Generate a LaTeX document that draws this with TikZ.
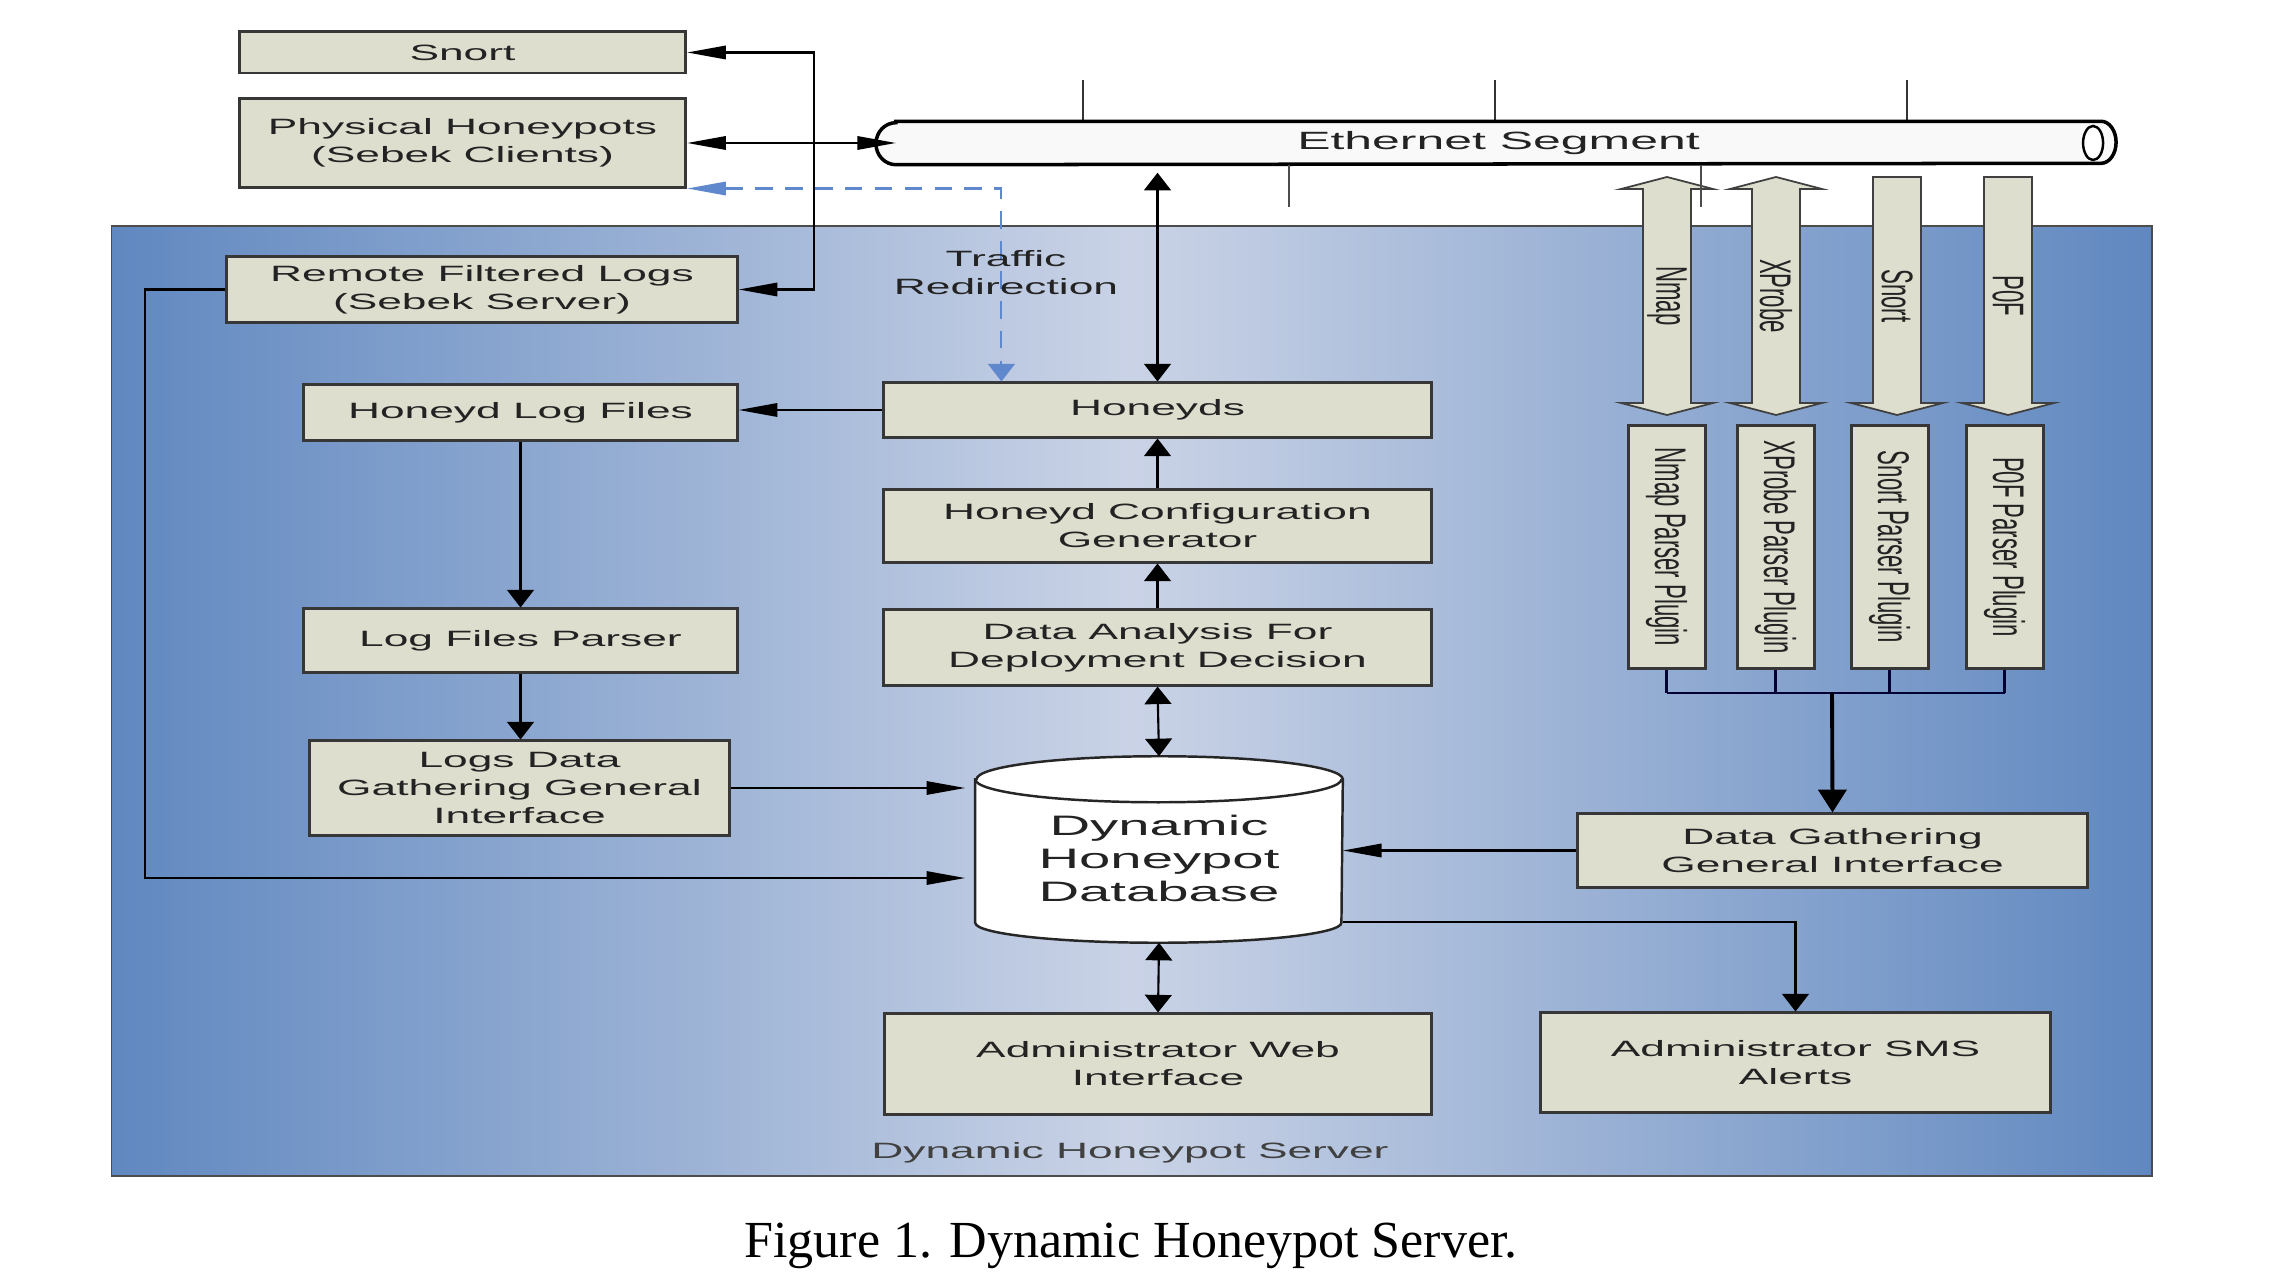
\documentclass[tikz,border=0pt]{standalone}
\usepackage{fontspec}
\setmainfont{Liberation Serif}
\newfontfamily\widesans[FakeStretch=2]{Liberation Sans}
\newfontfamily\plainsans{Liberation Sans}
\usetikzlibrary{shapes,arrows.meta,positioning,calc}

\definecolor{boxfill}{RGB}{221,222,205}
\definecolor{boxline}{RGB}{55,55,55}
\definecolor{srvedge}{RGB}{96,136,192}
\definecolor{srvmid}{RGB}{202,211,230}
\definecolor{redir}{RGB}{96,136,204}
\definecolor{ink}{RGB}{35,35,35}

\newcommand{\sidetext}[1]{\rotatebox{-90}{\scalebox{1}[2]{#1}}}

\tikzset{
  htip/.tip={Triangle[length=11pt,width=3.8pt]},
  vtip/.tip={Triangle[length=5pt,width=7.6pt]},
  bigtip/.tip={Triangle[length=6.5pt,width=8pt]},
  box/.style={draw=boxline, line width=0.85pt, fill=boxfill, inner sep=0pt,
    align=center, text=ink, font=\widesans\fontsize{6.3}{8}\selectfont},
  plugin/.style={box, minimum width=0.77cm, minimum height=2.42cm,
    font=\plainsans\fontsize{6.3}{8}\selectfont},
  server/.style={draw=black!70, line width=0.5pt, inner sep=0pt,
    left color=srvedge, right color=srvedge, middle color=srvmid},
  link/.style={draw=black, line width=0.6pt},
  buslink/.style={draw=black!80!blue, line width=0.6pt},
  redirline/.style={draw=redir, line width=0.6pt, dash pattern=on 5pt off 3.5pt},
  blockarrow/.style={draw=black!75, line width=0.5pt, fill=boxfill},
  plain/.style={inner sep=0pt, align=center, text=ink, font=\widesans\fontsize{6.3}{8}\selectfont}
}

\begin{document}
\begin{tikzpicture}[x=0.01cm, y=-0.01cm]
  \useasboundingbox (0,0) rectangle (2286,1286);

  % Server background
  \node[server, minimum width=20.39cm, minimum height=9.5cm] (server) at (1131.5,701) {};
  \node[plain, text=black!75] (srvname) at (1130,1153) {Dynamic Honeypot Server};

  % Ethernet segment
  \node[minimum width=12.03cm, minimum height=0.42cm, inner sep=0pt] (tube) at (1498.5,143) {};
  \foreach \x in {1083,1495,1907}
    \draw[black!80, line width=0.5pt] (\x,80) -- (tube.north -| \x,0);
  \draw[line width=1pt, fill=gray!5] (tube.north west) -- (tube.north east)
    arc[start angle=90, end angle=-90, x radius=0.15cm, y radius=0.21cm]
    -- (tube.south west)
    arc[start angle=270, end angle=90, x radius=0.2cm, y radius=0.21cm] -- cycle;
  \draw[line width=0.7pt, fill=white] (tube.east) ++(-8,0) ellipse[x radius=0.1cm, y radius=0.17cm];
  \node[plain, font=\widesans\fontsize{7.1}{8}\selectfont] (ethlbl) at (tube.center) {Ethernet Segment};

  % Sniffer arrows
  \foreach \cx/\lbl/\two in {1667/Nmap/1, 1776/XProbe/1, 1897/Snort/0, 2008/P0F/0} {
    \ifnum\two=1
      \draw[blockarrow] (\cx,177) -- (\cx+46,189) -- (\cx+24,189) -- (\cx+24,403) -- (\cx+46,403)
        -- (\cx,415) -- (\cx-46,403) -- (\cx-24,403) -- (\cx-24,189) -- (\cx-46,189) -- cycle;
    \else
      \draw[blockarrow] (\cx-24,177) -- (\cx+24,177) -- (\cx+24,403) -- (\cx+46,403)
        -- (\cx,415) -- (\cx-46,403) -- (\cx-24,403) -- cycle;
    \fi
    \node[plain, font=\plainsans\fontsize{6.3}{8}\selectfont] (arr-\lbl) at (\cx,296) {\sidetext{\lbl}};
  }
  \foreach \x in {1289,1701}
    \draw[black!70, line width=0.5pt] (tube.south -| \x,0) -- (\x,207);

  % Outside boxes
  \node[box, minimum width=4.46cm, minimum height=0.41cm] (snort) at (462.5,52.5) {Snort};
  \node[box, minimum width=4.46cm, minimum height=0.88cm] (phys) at (462.5,143) {Physical Honeypots\\(Sebek Clients)};

  % Left column
  \node[box, minimum width=5.10cm, minimum height=0.65cm] (remote) at (482,289.5) {Remote Filtered Logs\\(Sebek Server)};
  \node[box, minimum width=4.33cm, minimum height=0.55cm] (logfiles) at (520.5,412.5) {Honeyd Log Files};
  \node[box, minimum width=4.33cm, minimum height=0.63cm] (parser) at (520.5,640.5) {Log Files Parser};
  \node[box, minimum width=4.19cm, minimum height=0.94cm] (logsdata) at (519.5,788) {Logs Data\\Gathering General\\Interface};

  % Middle column
  \node[box, minimum width=5.47cm, minimum height=0.54cm] (honeyds) at (1157.5,410) {Honeyds};
  \node[box, minimum width=5.47cm, minimum height=0.72cm] (config) at (1157.5,526) {Honeyd Configuration\\Generator};
  \node[box, minimum width=5.47cm, minimum height=0.75cm] (analysis) at (1157.5,647.5) {Data Analysis For\\Deployment Decision};
  \node[box, minimum width=5.46cm, minimum height=1.00cm] (web) at (1158,1064) {Administrator Web\\Interface};

  % Database
  \node[minimum width=3.66cm, minimum height=1.85cm, inner sep=0pt] (db) at (1159,849.5) {};
  \draw[black!85, line width=0.7pt, fill=white] ([yshift=-2.3mm]db.north west) -- ([yshift=2mm]db.south west)
    arc[start angle=180, end angle=360, x radius=1.83cm, y radius=0.2cm]
    -- ([yshift=-2.3mm]db.north east)
    arc[start angle=0, end angle=180, x radius=1.83cm, y radius=0.23cm] -- cycle;
  \draw[black!85, line width=0.7pt] ([yshift=-2.3mm]db.north west)
    arc[start angle=180, end angle=360, x radius=1.83cm, y radius=0.23cm];
  \node[plain, font=\widesans\fontsize{8}{9.4}\selectfont] (dblbl) at (1159,858) {Dynamic\\Honeypot\\Database};

  % Right column
  \foreach \nm/\x/\txt in {nmapP/1666.5/Nmap, xprobeP/1775.5/XProbe, snortP/1889.5/Snort, p0fP/2004.5/P0F}
    \node[plugin] (\nm) at (\x,547) {\sidetext{\txt\ Parser Plugin}};
  \node[box, minimum width=5.09cm, minimum height=0.73cm] (dgi) at (1832.5,850.5) {Data Gathering\\General Interface};
  \node[box, minimum width=5.09cm, minimum height=0.99cm] (sms) at (1795.5,1062.5) {Administrator SMS\\Alerts};

  % Connectors
  \draw[link, htip-htip] (snort.east) -- ++(127,0) |- (remote.east);
  \draw[link, htip-htip] (phys.east) -- (tube.west);
  \draw[redirline, htip-vtip] (phys.south east) -| ([xshift=11.9mm]honeyds.north west);
  \node[plain] (redirlbl) at (1006,273) {Traffic\\Redirection};
  \draw[link, vtip-vtip, shorten >=0.8mm] (honeyds.north) -- (honeyds.north |- tube.south);
  \draw[link, -htip] (honeyds.west) -- (honeyds.west -| logfiles.east);
  \draw[link, -vtip] (config.north) -- (honeyds.south);
  \draw[link, -vtip] (analysis.north) -- (config.south);
  \draw[link, vtip-vtip] (analysis.south) -- (db.north);
  \draw[link, -vtip] (logfiles.south) -- (logfiles.south |- parser.north);
  \draw[link, -vtip] (parser.south) -- (parser.south |- logsdata.north);
  \draw[link, -htip, shorten >=1mm] (logsdata.east) -- (logsdata.east -| db.west);
  \draw[link, -htip, shorten >=1mm] (remote.west) -- ++(-80,0) |- ([yshift=-2.85mm]db.west);
  \draw[link, -htip] (dgi.west) -- (dgi.west -| db.east);
  \draw[link, vtip-vtip] (db.south) -- (web.north);
  \draw[link, -vtip] ([yshift=-7.25mm]db.east) -| (sms.north);

  % Plugin bus
  \coordinate (bus) at (1832,693);
  \foreach \p in {nmapP,xprobeP,snortP,p0fP}
    \draw[buslink] (\p.south) -- (\p.south |- bus);
  \draw[buslink] (nmapP.south |- bus) -- (p0fP.south |- bus);
  \draw[line width=1.1pt, -bigtip] (bus) -- (dgi.north);

  % Caption
  \node[anchor=base, inner sep=0pt, font=\fontsize{14.8}{17}\selectfont] (caption) at (1131,1257) {Figure 1. Dynamic Honeypot Server.};
\end{tikzpicture}
\end{document}
